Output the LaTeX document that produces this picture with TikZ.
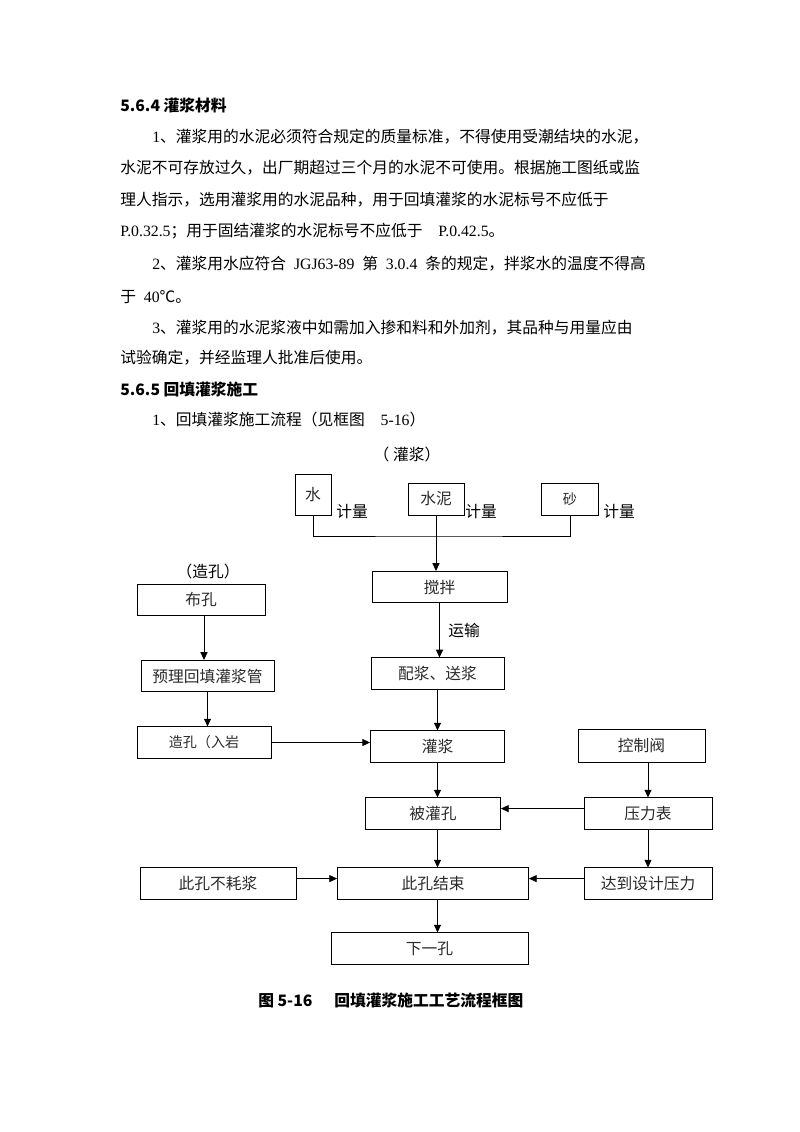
\documentclass[tikz,border=0pt]{standalone}
\usepackage{fontspec}
\usepackage{xcolor}
\newfontfamily\cjk{Noto Sans CJK SC}
\newfontfamily\halfw{Liberation Serif}
\usetikzlibrary{arrows.meta, positioning, calc}
\definecolor{InkGray}{HTML}{2A2A2A}
\newcommand{\zhsize}{\fontsize{11.2}{13}\selectfont}
\newcommand{\zhsmall}{\fontsize{10}{12}\selectfont}
\newcommand{\hw}[1]{{\halfw #1}}
\newcommand{\hsp}{\hspace{0.5em}}

\begin{document}
\begin{tikzpicture}[
    x=0.025cm, y=-0.025cm,
    box/.style={draw, line width=0.6pt, inner sep=0pt, minimum height=0.78cm,
                font=\cjk\zhsize, text=InkGray},
    note/.style={inner sep=0pt, font=\cjk\zhsize},
    para/.style={anchor=west, inner sep=0pt, font=\cjk\zhsize},
    head/.style={para, font=\cjk\bfseries\zhsize},
    flow/.style={line width=0.6pt, -{Triangle[length=5.5pt, width=5pt]}},
    wire/.style={line width=0.6pt}
]
    % Page (800 x 1132)
    \fill[white] (0,0) rectangle (800,1132);
    \useasboundingbox (0,0) rectangle (800,1132);

    % Text above the chart
    \node[head] (h564) at (120,105) {5.6.4 灌浆材料};
    \node[para] (p1a) at (152,137) {\hw{1}、灌浆用的水泥必须符合规定的质量标准，不得使用受潮结块的水泥，};
    \node[para] (p1b) at (120,168) {水泥不可存放过久，出厂期超过三个月的水泥不可使用。根据施工图纸或监};
    \node[para] (p1c) at (120,200) {理人指示，选用灌浆用的水泥品种，用于回填灌浆的水泥标号不应低于};
    \node[para] (p1d) at (120,231) {\hw{P.0.32.5}；用于固结灌浆的水泥标号不应低于\hsp\hsp\hw{P.0.42.5}。};
    \node[para] (p2a) at (152,264) {\hw{2}、灌浆用水应符合\hsp\hw{JGJ63-89}\hsp 第\hsp\hw{3.0.4}\hsp 条的规定，拌浆水的温度不得高};
    \node[para] (p2b) at (120,297) {于\hsp\hw{40}℃。};
    \node[para] (p3a) at (152,328) {\hw{3}、灌浆用的水泥浆液中如需加入掺和料和外加剂，其品种与用量应由};
    \node[para] (p3b) at (120,358) {试验确定，并经监理人批准后使用。};
    \node[head] (h565) at (120,389) {5.6.5 回填灌浆施工};
    \node[para] (p4) at (152,420) {\hw{1}、回填灌浆施工流程（见框图\hsp\hsp\hw{5-16}）};

    % Grout materials
    \node[note] (tguan) at (407,455) {（ 灌浆）};
    \node[box, minimum width=0.9cm, minimum height=1.025cm] (shui) at (313,495) {水};
    \node[box, minimum width=1.4cm, minimum height=0.8cm] (shuini) at (436,499) {水泥};
    \node[box, minimum width=1.425cm, minimum height=0.8cm, font=\cjk\zhsmall] (sha) at (570,499) {砂};
    \node[note] (jl1) at (352,512) {计量};
    \node[note] (jl2) at (481,512) {计量};
    \node[note] (jl3) at (619,512) {计量};
    \coordinate (hub) at (436,536);

    % Main column
    \node[box, minimum width=3.375cm] (jiaoban) at (439.5,587) {搅拌};
    \node[note] (yunshu) at (464,631) {运输};
    \node[box, minimum width=3.325cm] (peijiang) at (437.5,673.5) {配浆、送浆};
    \node[box, minimum width=3.35cm] (guanjiang) at (437.5,746.5) {灌浆};
    \node[box, minimum width=3.375cm] (beiguan) at (433,813.5) {被灌孔};
    \node[box, minimum width=4.775cm] (jieshu) at (433,883.5) {此孔结束};
    \node[box, minimum width=4.925cm] (xiayi) at (429.5,948.5) {下一孔};

    % Drilling column
    \node[note] (tzao) at (208,572) {（造孔）};
    \node[box, minimum width=3.2cm] (bukong) at (201,600) {布孔};
    \node[box, minimum width=3.325cm] (maiguan) at (207.5,676) {预理回填灌浆管};
    \node[box, minimum width=3.35cm, font=\cjk\zhsmall] (zaokong) at (204,742.5) {造孔（入岩};
    \node[box, minimum width=3.9cm] (buhao) at (218,883.5) {此孔不耗浆};

    % Pressure column
    \node[box, minimum width=3.175cm, minimum height=0.825cm] (kongzhi) at (641.5,745.5) {控制阀};
    \node[box, minimum width=3.2cm] (yali) at (648,813.5) {压力表};
    \node[box, minimum width=3.2cm] (dadao) at (648,883.5) {达到设计压力};

    % Caption
    \node[note, font=\cjk\bfseries\zhsize, anchor=west] (caption) at (258,1000)
        {图 5-16\hspace{1.4em}回填灌浆施工工艺流程框图};

    % Connectors
    \draw[wire] (shui.south) |- (hub) -| (sha.south);
    \draw[wire] (shuini.south) -- (hub);
    \draw[flow] (hub) -- (hub |- jiaoban.north);
    \draw[flow] (jiaoban.south) -- (jiaoban.south |- peijiang.north);
    \draw[flow] (peijiang.south -| guanjiang) -- (guanjiang.north);
    \draw[flow] (guanjiang.south) -- (guanjiang.south |- beiguan.north);
    \draw[flow] (beiguan.south -| guanjiang) -- (jieshu.north -| guanjiang);
    \draw[flow] (jieshu.south -| guanjiang) -- (xiayi.north -| guanjiang);

    \draw[flow] (bukong.south -| zaokong) -- (maiguan.north -| zaokong);
    \draw[flow] (maiguan.south) -- (maiguan.south |- zaokong.north);
    \draw[flow] (zaokong.east) -- (zaokong.east -| guanjiang.west);

    \draw[flow] (kongzhi.south -| yali) -- (yali.north);
    \draw[flow] (yali.south) -- (dadao.north);
    \draw[flow] ([yshift=3.5pt]yali.west) -- ([yshift=3.5pt]yali.west -| beiguan.east);
    \draw[flow] ([yshift=3.5pt]dadao.west) -- ([yshift=3.5pt]dadao.west -| jieshu.east);
    \draw[flow] ([yshift=3.5pt]buhao.east) -- ([yshift=3.5pt]buhao.east -| jieshu.west);
\end{tikzpicture}
\end{document}
